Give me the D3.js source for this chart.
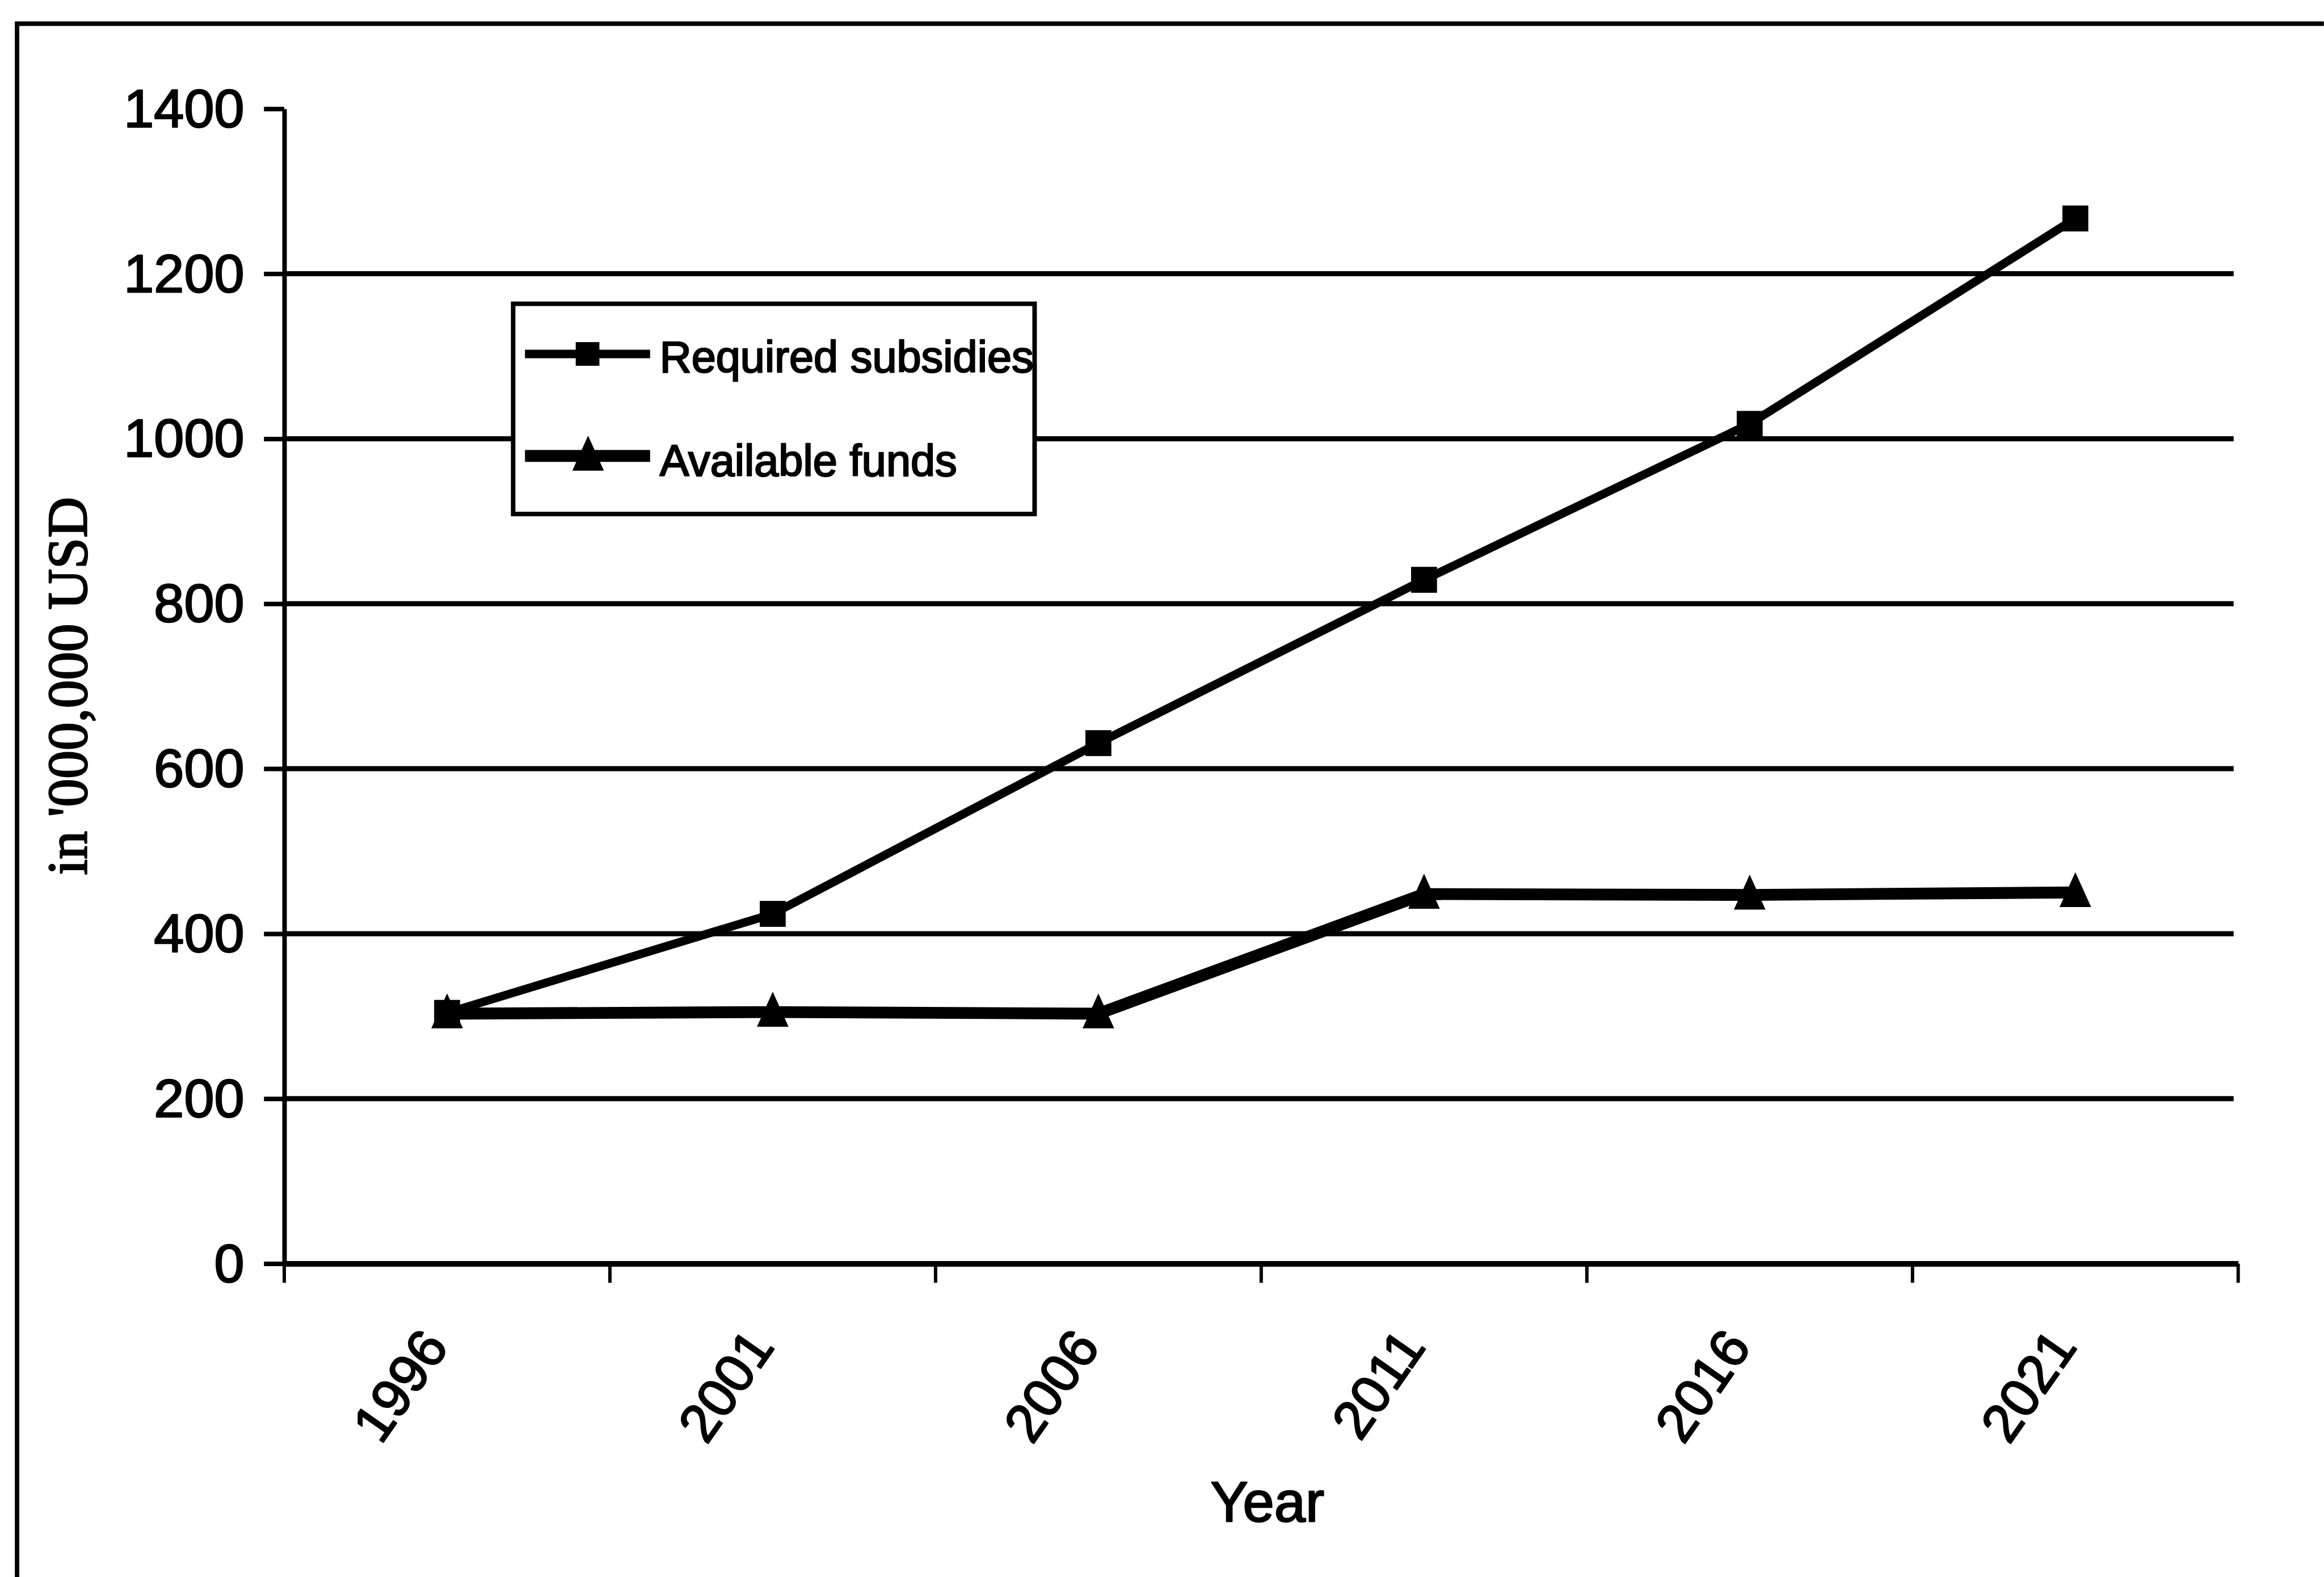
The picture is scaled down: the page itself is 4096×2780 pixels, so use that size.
<!DOCTYPE html>
<html>
<head>
<meta charset="utf-8">
<script src="https://cdn.jsdelivr.net/npm/d3@7"></script>
<style>
  html, body { margin: 0; padding: 0; background: #fff; overflow: hidden; }
  svg { display: block; }
  text { stroke: #000; stroke-width: 2.5px; stroke-linejoin: round; paint-order: fill; }
</style>
</head>
<body>
<svg id="chart"></svg>
<script>
// Chart data
const years = ["1996", "2001", "2006", "2011", "2016", "2021"];
const requiredSubsidies = [304, 424, 631, 829, 1018, 1267];
const availableFunds = [303, 305, 303, 448, 447, 450];
const yTickValues = [0, 200, 400, 600, 800, 1000, 1200, 1400];
const gridValues = [200, 400, 600, 800, 1000, 1200];
const seriesNames = ["Required subsidies", "Available funds"];
const yAxisTitle = "in '000,000 USD";
const xAxisTitle = "Year";

// Drawing space (scaled down to the window through the viewBox)
const W = 4122, H = 2798;
const SANS = "'Liberation Sans', Arial, Helvetica, sans-serif";
const SERIF = "'Liberation Serif', 'Times New Roman', Times, serif";
const INK = "#000";

const svg = d3.select("#chart")
  .attr("width", 4096)
  .attr("height", 2780)
  .attr("viewBox", `0 0 ${W} ${H}`);

svg.append("rect").attr("width", W).attr("height", H).attr("fill", "#fff").attr("stroke", "none");

// Outer frame: only the top and left edges fall inside the page
svg.append("path")
  .attr("d", `M30,${H} V42 H${W}`)
  .attr("fill", "none")
  .attr("stroke", INK)
  .attr("stroke-width", 8);

const plot = { left: 504, right: 3970, top: 193, bottom: 2242, gridEnd: 3962 };

const x = d3.scaleBand().domain(years).range([plot.left, plot.right]);
const y = d3.scaleLinear().domain([0, 1400]).range([plot.bottom, plot.top]);
const cx = d => x(d) + x.bandwidth() / 2;

// Horizontal gridlines
svg.append("g")
  .selectAll("line")
  .data(gridValues)
  .join("line")
  .attr("x1", plot.left)
  .attr("x2", plot.gridEnd)
  .attr("y1", d => y(d))
  .attr("y2", d => y(d))
  .attr("stroke", INK)
  .attr("stroke-width", 9);

// Y axis
const yAxis = svg.append("g")
  .attr("transform", `translate(${plot.left},0)`)
  .call(d3.axisLeft(y)
    .tickValues(yTickValues)
    .tickFormat(d3.format("d"))
    .tickSize(36)
    .tickSizeOuter(0)
    .tickPadding(35));
yAxis.select(".domain").attr("stroke", INK).attr("stroke-width", 8);
yAxis.selectAll(".tick line").attr("stroke", INK).attr("stroke-width", 8);
yAxis.selectAll(".tick text")
  .attr("fill", INK)
  .style("font-family", SANS)
  .style("font-size", "96px")
  .attr("dy", "0.33em");

// X axis: line and category labels
const xAxis = svg.append("g")
  .attr("transform", `translate(0,${plot.bottom})`)
  .call(d3.axisBottom(x).tickSize(0).tickSizeOuter(0));
xAxis.select(".domain").attr("stroke", INK).attr("stroke-width", 10);
xAxis.selectAll(".tick text")
  .attr("fill", INK)
  .attr("x", 0)
  .attr("y", 0)
  .attr("dy", 0)
  .attr("text-anchor", "end")
  .attr("transform", "translate(5,148) rotate(-55)")
  .style("font-family", SANS)
  .style("font-size", "96px");

// X axis tick marks sit between categories
const boundaries = years.map(d => x(d)).concat([plot.right]);
svg.append("g")
  .selectAll("line")
  .data(boundaries)
  .join("line")
  .attr("x1", d => d)
  .attr("x2", d => d)
  .attr("y1", plot.bottom)
  .attr("y2", plot.bottom + 34)
  .attr("stroke", INK)
  .attr("stroke-width", 6);

// Axis titles
svg.append("text")
  .attr("transform", `translate(153,1217) rotate(-90)`)
  .attr("text-anchor", "middle")
  .attr("fill", INK)
  .style("font-family", SERIF)
  .style("font-size", "100px")
  .text(yAxisTitle);

svg.append("text")
  .attr("x", 2248)
  .attr("y", 2699)
  .attr("text-anchor", "middle")
  .attr("fill", INK)
  .style("font-family", SANS)
  .style("font-size", "100px")
  .text(xAxisTitle);

// Series lines
const rsData = years.map((d, i) => ({ year: d, value: requiredSubsidies[i] }));
const afData = years.map((d, i) => ({ year: d, value: availableFunds[i] }));
const line = d3.line().x(d => cx(d.year)).y(d => y(d.value));

const trianglePath = "M0,-36 L28,26 L-28,26 Z";
const squareSide = 46;

svg.append("path")
  .datum(afData)
  .attr("d", line)
  .attr("fill", "none")
  .attr("stroke", INK)
  .attr("stroke-width", 21)
  .attr("stroke-linejoin", "round");

svg.append("path")
  .datum(rsData)
  .attr("d", line)
  .attr("fill", "none")
  .attr("stroke", INK)
  .attr("stroke-width", 15)
  .attr("stroke-linejoin", "round");

// Markers
svg.append("g")
  .selectAll("path")
  .data(afData)
  .join("path")
  .attr("d", trianglePath)
  .attr("transform", d => `translate(${cx(d.year)},${y(d.value)})`)
  .attr("fill", INK);

svg.append("g")
  .selectAll("rect")
  .data(rsData)
  .join("rect")
  .attr("x", d => cx(d.year) - squareSide / 2)
  .attr("y", d => y(d.value) - squareSide / 2)
  .attr("width", squareSide)
  .attr("height", squareSide)
  .attr("fill", INK);

// Legend
const legend = svg.append("g");
legend.append("rect")
  .attr("x", 910).attr("y", 539)
  .attr("width", 925).attr("height", 373)
  .attr("fill", "#fff")
  .attr("stroke", INK)
  .attr("stroke-width", 8);

const legendRows = [
  { name: seriesNames[0], lineY: 628, textY: 660, width: 15, marker: "square" },
  { name: seriesNames[1], lineY: 809, textY: 844, width: 21, marker: "triangle" }
];
legendRows.forEach(r => {
  legend.append("line")
    .attr("x1", 931).attr("x2", 1153)
    .attr("y1", r.lineY).attr("y2", r.lineY)
    .attr("stroke", INK)
    .attr("stroke-width", r.width);
  if (r.marker === "square") {
    legend.append("rect")
      .attr("x", 1042 - 21).attr("y", r.lineY - 21)
      .attr("width", 42).attr("height", 42)
      .attr("fill", INK);
  } else {
    legend.append("path")
      .attr("d", trianglePath)
      .attr("transform", `translate(1043,${r.lineY})`)
      .attr("fill", INK);
  }
  legend.append("text")
    .attr("x", 1170).attr("y", r.textY)
    .attr("fill", INK)
    .style("font-family", SANS)
    .style("font-size", "78px")
    .text(r.name);
});
</script>
</body>
</html>
